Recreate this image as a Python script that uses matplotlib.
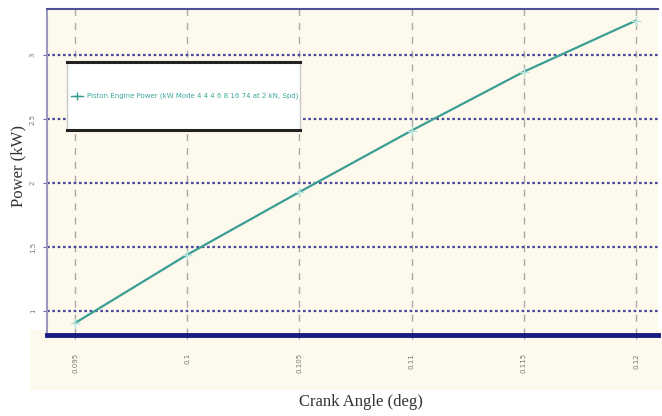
import numpy as np
import matplotlib
matplotlib.use("Agg")
import matplotlib.pyplot as plt
from matplotlib.patches import Rectangle
from matplotlib.lines import Line2D

# data (tick labels are illegible, values estimated)
crank_angle = [0.095, 0.100, 0.105, 0.110, 0.115, 0.120]
power_kw = [0.906, 1.44, 1.93, 2.41, 2.87, 3.27]
x_ticks = [0.095, 0.100, 0.105, 0.110, 0.115, 0.120]
x_tick_labels = ["0.095", "0.1", "0.105", "0.11", "0.115", "0.12"]
y_ticks = [1.0, 1.5, 2.0, 2.5, 3.0]
y_tick_labels = ["1", "1.5", "2", "2.5", "3"]
legend_label = "Piston Engine Power (kW Mode 4 4 4 6 8 16 74 at 2 kN, Spd)"

cream = "#fdf9ec"
teal = "#3a9e94"

fig = plt.figure(figsize=(6.62, 4.16), dpi=100)
fig.patch.set_facecolor("white")

ax = fig.add_axes([47 / 662, 81 / 416, 611 / 662, 326 / 416])
ax.set_facecolor(cream)
# cream panel behind the tick labels, drawn under the axes
ax.add_patch(Rectangle((30 / 662, 26 / 416), 1 - 30 / 662, 60 / 416,
                       transform=fig.transFigure, facecolor=cream,
                       edgecolor="none", zorder=-5, clip_on=False))

ax.plot(crank_angle, power_kw, color=teal, lw=1.6, zorder=3,
        marker="+", markersize=7, markeredgecolor="#b8e4de", markeredgewidth=1.0)

ax.set_xlim(0.09375, 0.12098)
ax.set_ylim(0.8125, 3.36)

ax.set_xticks(x_ticks)
ax.set_xticklabels(x_tick_labels, rotation=90, fontsize=5, color="#777777")
ax.set_yticks(y_ticks)
ax.set_yticklabels(y_tick_labels, rotation=90, fontsize=5, color="#777777", va="center")
ax.tick_params(axis="x", length=3, color="#9090b8", pad=10)
ax.tick_params(axis="y", length=3, color="#6060a0", pad=5)

# grid: gray dashed verticals, navy dotted horizontals
for xv in x_ticks:
    ax.axvline(xv, color="#a8a8a8", lw=1.0, ls=(0, (5, 5)), zorder=1)
for yv in y_ticks:
    ax.axhline(yv, color="#4a4a9a", lw=1.6, ls=(0, (1.2, 1.2)), zorder=2)

ax.spines["bottom"].set_color("#1a1a80")
ax.spines["bottom"].set_linewidth(3.5)
ax.spines["top"].set_color("#50509a")
ax.spines["top"].set_linewidth(1.5)
ax.spines["left"].set_color("#9a9ac0")
ax.spines["left"].set_linewidth(1.5)
ax.spines["right"].set_visible(False)

# legend box drawn by hand: white box, heavy top/bottom edges, thin grey sides
lx0, lx1 = 67 / 662, 300 / 662
ly0, ly1 = 1 - 130 / 416, 1 - 62 / 416
fig.patches.append(Rectangle((lx0, ly0), lx1 - lx0, ly1 - ly0, transform=fig.transFigure,
                             facecolor="white", edgecolor="#c8c8c8", lw=1.0, zorder=5))
for yy in (ly0, ly1):
    fig.lines.append(Line2D([lx0, lx1], [yy, yy], transform=fig.transFigure,
                            color="#222222", lw=2.2, zorder=6))
ymid = (ly0 + ly1) / 2
fig.lines.append(Line2D([71 / 662, 83 / 662], [ymid, ymid], transform=fig.transFigure,
                        color=teal, lw=1.0, zorder=6))
fig.lines.append(Line2D([77 / 662], [ymid], transform=fig.transFigure, marker="+",
                        markersize=6, color=teal, markeredgewidth=1.0, zorder=6))
fig.text(87 / 662, ymid, legend_label, ha="left", va="center", fontsize=5,
         color="#3aa89a", zorder=7)

fig.text(18 / 662, 0.60, "Power (kW)", rotation=90, ha="center", va="center",
         fontsize=12, family="Liberation Serif", color="#333333")
fig.text(0.545, 14 / 416, "Crank Angle (deg)", ha="center", va="center",
         fontsize=12, family="Liberation Serif", color="#333333")

fig.savefig("out.png", dpi=100, facecolor=fig.get_facecolor())
